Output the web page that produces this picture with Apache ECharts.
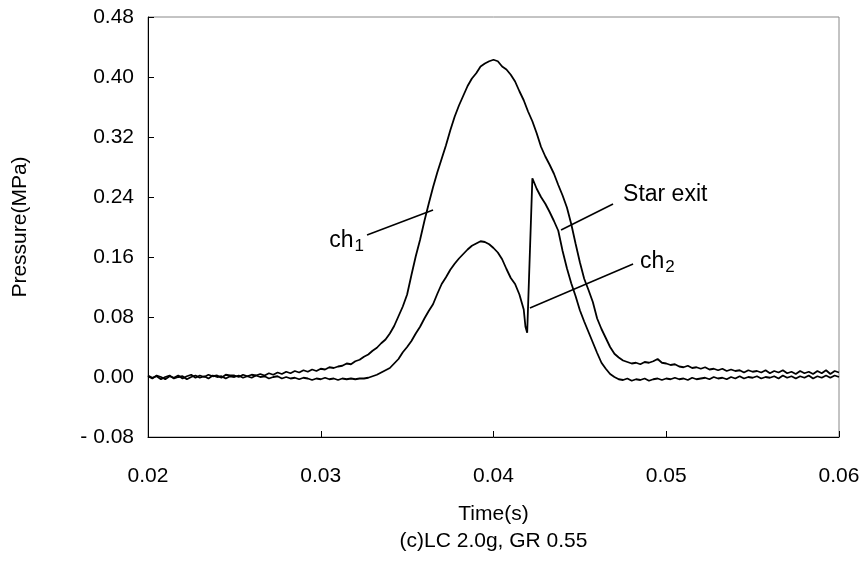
<!DOCTYPE html>
<html><head><meta charset="utf-8">
<script src="https://cdn.jsdelivr.net/npm/echarts@6/dist/echarts.min.js"></script>
<style>html,body{margin:0;padding:0;background:#fff}#c{width:867px;height:563px}</style>
</head><body><div id="c"></div>
<script>
// Time grid (s) for ch1
const time1 = [
0.02,0.02025,0.0205,0.02075,0.021,0.02125,0.0215,0.02175,0.022,0.02225,
0.0225,0.02275,0.023,0.02325,0.0235,0.02375,0.024,0.02425,0.0245,0.02475,
0.025,0.02525,0.0255,0.02575,0.026,0.02625,0.0265,0.02675,0.027,0.02725,
0.0275,0.02775,0.028,0.02825,0.0285,0.02875,0.029,0.02925,0.0295,0.02975,
0.03,0.03025,0.0305,0.03075,0.031,0.03125,0.0315,0.03175,0.032,0.03225,
0.0325,0.03275,0.033,0.03325,0.0335,0.03375,0.034,0.03425,0.0345,0.03475,
0.035,0.03525,0.0355,0.03575,0.036,0.03625,0.0365,0.03675,0.037,0.03725,
0.0375,0.03775,0.038,0.03825,0.0385,0.03875,0.039,0.03925,0.0395,0.03975,
0.04,0.04025,0.0405,0.04075,0.041,0.04125,0.0415,0.04175,0.042,0.04225,
0.0425,0.04275,0.043,0.04325,0.0435,0.04375,0.044,0.04425,0.0445,0.04475,
0.045,0.04525,0.0455,0.04575,0.046,0.04625,0.0465,0.04675,0.047,0.04725,
0.0475,0.04775,0.048,0.04825,0.0485,0.04875,0.049,0.04925,0.0495,0.04975,
0.05,0.05025,0.0505,0.05075,0.051,0.05125,0.0515,0.05175,0.052,0.05225,
0.0525,0.05275,0.053,0.05325,0.0535,0.05375,0.054,0.05425,0.0545,0.05475,
0.055,0.05525,0.0555,0.05575,0.056,0.05625,0.0565,0.05675,0.057,0.05725,
0.0575,0.05775,0.058,0.05825,0.0585,0.05875,0.059,0.05925,0.0595,0.05975,
0.06];
// ch1 pressure (MPa)
const ch1 = [
0.001,-0.002,0.002,0.000,-0.003,0.001,-0.001,0.002,-0.002,0.001,
0.003,-0.001,0.002,0.000,0.003,0.001,0.002,-0.001,0.003,0.002,
0.002,0.000,0.003,0.001,0.003,0.002,0.004,0.002,0.005,0.003,
0.006,0.004,0.007,0.005,0.008,0.006,0.009,0.007,0.010,0.008,
0.011,0.010,0.013,0.012,0.014,0.015,0.018,0.017,0.021,0.023,
0.027,0.030,0.035,0.039,0.045,0.050,0.058,0.068,0.081,0.094,
0.110,0.136,0.161,0.183,0.208,0.231,0.253,0.273,0.291,0.309,
0.329,0.347,0.362,0.375,0.388,0.398,0.405,0.414,0.418,0.421,
0.423,0.421,0.414,0.410,0.403,0.394,0.381,0.369,0.354,0.341,
0.325,0.307,0.294,0.283,0.271,0.256,0.242,0.226,0.204,0.178,
0.153,0.131,0.116,0.100,0.078,0.064,0.052,0.040,0.031,0.026,
0.022,0.020,0.018,0.019,0.017,0.020,0.019,0.021,0.024,0.019,
0.018,0.016,0.017,0.014,0.013,0.015,0.012,0.013,0.011,0.013,
0.010,0.011,0.009,0.011,0.008,0.010,0.008,0.009,0.006,0.009,
0.007,0.008,0.006,0.009,0.005,0.008,0.006,0.009,0.005,0.007,
0.004,0.008,0.005,0.007,0.004,0.008,0.005,0.009,0.004,0.008,
0.006];
// Time grid (s) for ch2 (extra samples around the star-exit spike)
const time2 = [
0.02,0.02025,0.0205,0.02075,0.021,0.02125,0.0215,0.02175,0.022,0.02225,
0.0225,0.02275,0.023,0.02325,0.0235,0.02375,0.024,0.02425,0.0245,0.02475,
0.025,0.02525,0.0255,0.02575,0.026,0.02625,0.0265,0.02675,0.027,0.02725,
0.0275,0.02775,0.028,0.02825,0.0285,0.02875,0.029,0.02925,0.0295,0.02975,
0.03,0.03025,0.0305,0.03075,0.031,0.03125,0.0315,0.03175,0.032,0.03225,
0.0325,0.03275,0.033,0.03325,0.0335,0.03375,0.034,0.03425,0.0345,0.03475,
0.035,0.03525,0.0355,0.03575,0.036,0.03625,0.0365,0.03675,0.037,0.03725,
0.0375,0.03775,0.038,0.03825,0.0385,0.03875,0.039,0.03925,0.0395,0.03975,
0.04,0.04025,0.0405,0.04075,0.041,0.04125,0.0415,0.04175,0.04185,0.04195,0.04225,
0.0425,0.04275,0.043,0.04325,0.0435,0.04375,0.044,0.04425,0.0445,0.04475,
0.045,0.04525,0.0455,0.04575,0.046,0.04625,0.0465,0.04675,0.047,0.04725,
0.0475,0.04775,0.048,0.04825,0.0485,0.04875,0.049,0.04925,0.0495,0.04975,
0.05,0.05025,0.0505,0.05075,0.051,0.05125,0.0515,0.05175,0.052,0.05225,
0.0525,0.05275,0.053,0.05325,0.0535,0.05375,0.054,0.05425,0.0545,0.05475,
0.055,0.05525,0.0555,0.05575,0.056,0.05625,0.0565,0.05675,0.057,0.05725,
0.0575,0.05775,0.058,0.05825,0.0585,0.05875,0.059,0.05925,0.0595,0.05975,
0.06];
// ch2 pressure (MPa)
const ch2 = [
0.002,-0.001,0.001,-0.003,0.000,0.002,-0.002,0.000,0.001,-0.003,
0.000,0.002,-0.001,0.001,-0.002,0.002,0.000,0.001,-0.002,0.001,
0.000,0.002,-0.001,0.001,-0.001,0.002,0.000,0.001,-0.002,0.000,
0.001,-0.002,0.000,-0.002,-0.001,-0.003,-0.001,-0.002,-0.004,-0.002,
-0.003,-0.001,-0.003,-0.002,-0.004,-0.002,-0.003,-0.002,-0.003,-0.002,
-0.002,-0.001,0.001,0.003,0.006,0.009,0.012,0.018,0.024,0.033,
0.040,0.048,0.058,0.067,0.078,0.088,0.097,0.111,0.124,0.133,
0.143,0.151,0.158,0.164,0.170,0.175,0.178,0.181,0.180,0.177,
0.172,0.166,0.157,0.144,0.132,0.124,0.110,0.090,0.067,0.059,0.265,
0.251,0.240,0.231,0.220,0.208,0.195,0.168,0.145,0.125,0.108,
0.089,0.074,0.060,0.046,0.032,0.019,0.011,0.004,0.000,-0.003,
-0.004,-0.002,-0.005,-0.003,-0.004,-0.002,-0.005,-0.003,-0.002,-0.004,
-0.002,-0.003,-0.001,-0.003,-0.002,-0.004,-0.001,-0.003,-0.002,-0.001,
-0.003,0.000,-0.002,-0.001,-0.003,0.000,-0.002,0.001,-0.002,0.000,
-0.001,0.001,-0.002,0.000,-0.001,0.001,-0.002,0.002,-0.001,0.001,
-0.002,0.001,-0.001,0.002,-0.002,0.001,-0.001,0.002,-0.001,0.002,
0.000];
// Axis ticks
const xTicks = [0.02, 0.03, 0.04, 0.05, 0.06];
const yTicks = [-0.08, 0.00, 0.08, 0.16, 0.24, 0.32, 0.40, 0.48];
// Annotation pointers (data units): [start, end]
const ch1Pointer = [[0.03268, 0.1893], [0.0365, 0.2227]];
const starPointer = [[0.04391, 0.196], [0.04692, 0.2307]];
const ch2Pointer = [[0.04211, 0.092], [0.04808, 0.1507]];

const FONT = '"Liberation Sans", Arial, sans-serif';
const FS = 21;
const AFS = 23;
const chart = echarts.init(document.getElementById('c'), null, {renderer: 'canvas'});
const fmt = v => (v < 0 ? '- ' + Math.abs(v).toFixed(2) : v.toFixed(2));

chart.setOption({
  animation: false,
  backgroundColor: '#fff',
  grid: {left: 148, right: 28, top: 17, bottom: 126, show: true, borderColor: '#888', borderWidth: 1},
  xAxis: {
    type: 'value', min: xTicks[0], max: xTicks[xTicks.length - 1], interval: 0.01,
    name: 'Time(s)\n(c)LC 2.0g, GR 0.55', nameLocation: 'middle', nameGap: 64,
    nameTextStyle: {color: '#000', fontSize: FS, fontFamily: FONT, lineHeight: 27},
    axisLine: {onZero: false, lineStyle: {color: '#000', width: 1}},
    axisTick: {inside: true, length: 6, lineStyle: {color: '#000'}},
    axisLabel: {color: '#000', fontSize: FS, fontFamily: FONT, margin: 29, formatter: fmt},
    splitLine: {show: false}
  },
  yAxis: {
    type: 'value', min: yTicks[0], max: yTicks[yTicks.length - 1], interval: 0.08,
    name: 'Pressure(MPa)', nameLocation: 'middle', nameGap: 117, nameRotate: 90,
    nameTextStyle: {color: '#000', fontSize: FS, fontFamily: FONT},
    axisLine: {onZero: false, lineStyle: {color: '#000', width: 1}},
    axisTick: {inside: true, length: 6, lineStyle: {color: '#000'}},
    axisLabel: {color: '#000', fontSize: FS, fontFamily: FONT, margin: 14, formatter: fmt},
    splitLine: {show: false}
  },
  series: [
    {name: 'ch1', type: 'line', showSymbol: false, symbol: 'none',
     lineStyle: {color: '#000', width: 1.8}, data: time1.map((t, i) => [t, ch1[i]])},
    {name: 'ch2', type: 'line', showSymbol: false, symbol: 'none',
     lineStyle: {color: '#000', width: 1.8}, data: time2.map((t, i) => [t, ch2[i]])}
  ]
});

function P(p) { return chart.convertToPixel({gridIndex: 0}, p); }
function seg(ptr) {
  const a = P(ptr[0]), b = P(ptr[1]);
  return {type: 'line', shape: {x1: a[0], y1: a[1], x2: b[0], y2: b[1]}, style: {stroke: '#000', lineWidth: 1.5}, z: 10};
}
const rich = {
  a: {fontSize: AFS, fontFamily: FONT, color: '#000', lineHeight: 28, verticalAlign: 'bottom'},
  s: {fontSize: 17, fontFamily: FONT, color: '#000', lineHeight: 24, verticalAlign: 'bottom', padding: [0, 0, -3, 1]}
};
const c1 = P(ch1Pointer[0]), se = P(starPointer[1]), c2 = P(ch2Pointer[1]);
chart.setOption({
  graphic: [
    seg(ch1Pointer), seg(starPointer), seg(ch2Pointer),
    {type: 'text', x: c1[0] - 3, y: c1[1] + 3, z: 10,
     style: {text: '{a|ch}{s|1}', rich: rich, align: 'right', verticalAlign: 'middle'}},
    {type: 'text', x: se[0] + 10, y: se[1] - 9, z: 10,
     style: {text: 'Star exit', fontSize: AFS, fontFamily: FONT, fill: '#000', align: 'left', verticalAlign: 'middle'}},
    {type: 'text', x: c2[0] + 7, y: c2[1] - 5, z: 10,
     style: {text: '{a|ch}{s|2}', rich: rich, align: 'left', verticalAlign: 'middle'}}
  ]
});
</script></body></html>
